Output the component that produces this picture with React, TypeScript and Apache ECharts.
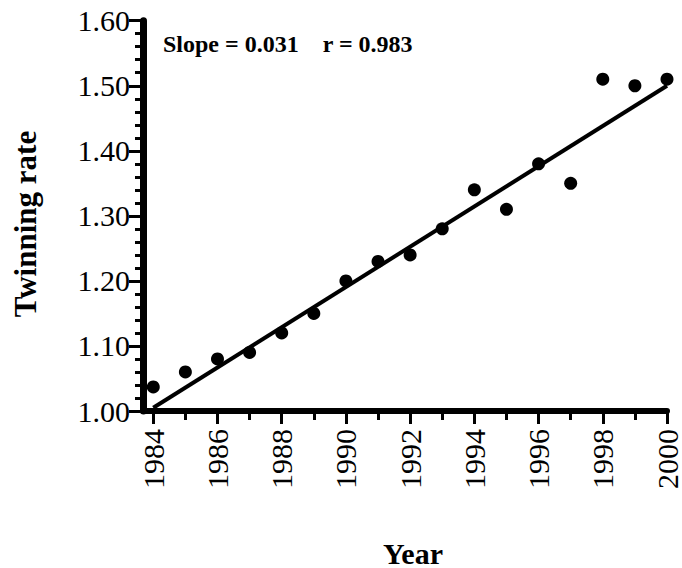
import React, { useEffect, useRef } from "react";
import * as echarts from "echarts";

const years = [1984, 1985, 1986, 1987, 1988, 1989, 1990, 1991, 1992, 1993, 1994, 1995, 1996, 1997, 1998, 1999, 2000];
const rates = [1.037, 1.06, 1.08, 1.09, 1.12, 1.15, 1.2, 1.23, 1.24, 1.28, 1.34, 1.31, 1.38, 1.35, 1.51, 1.5, 1.51];
const fitYears = [1984, 2000];
const fitRates = [1.005, 1.5];
const majorYearTicks = [1984, 1986, 1988, 1990, 1992, 1994, 1996, 1998, 2000];
const minorYearTicks = [1985, 1987, 1989, 1991, 1993, 1995, 1997, 1999];
const majorRateTicks = [1.0, 1.1, 1.2, 1.3, 1.4, 1.5, 1.6];
const minorRateTicks = [
  1.02, 1.04, 1.06, 1.08,
  1.12, 1.14, 1.16, 1.18,
  1.22, 1.24, 1.26, 1.28,
  1.32, 1.34, 1.36, 1.38,
  1.42, 1.44, 1.46, 1.48,
  1.52, 1.54, 1.56, 1.58,
];
const yTitle = "Twinning rate";
const xTitle = "Year";
const annotation = "Slope = 0.031    r = 0.983";

const SERIF = "'Liberation Serif', 'DejaVu Serif', serif";

export default function App() {
  const ref = useRef<HTMLDivElement>(null);
  useEffect(() => {
    if (!ref.current) return;
    const chart = echarts.init(ref.current, undefined, { renderer: "svg" });
    const xMin = 1983.68;
    const tickStyle = { color: "#000000", width: 3 };
    chart.setOption({
      animation: false,
      backgroundColor: "#ffffff",
      grid: { left: 143, right: 10, top: 20.7, bottom: 157, containLabel: false },
      xAxis: [
        {
          type: "value",
          position: "bottom",
          min: xMin,
          max: 2000,
          axisLine: { show: true, lineStyle: { color: "#000000", width: 6 } },
          axisTick: { show: true, customValues: majorYearTicks, length: 13, lineStyle: tickStyle },
          axisLabel: {
            show: true,
            customValues: majorYearTicks,
            rotate: 90,
            margin: 18,
            color: "#000",
            fontFamily: SERIF,
            fontSize: 30,
            formatter: (v: number) => String(Math.round(v)),
          },
          splitLine: { show: false },
        },
        {
          type: "value",
          position: "bottom",
          min: xMin,
          max: 2000,
          axisLine: { show: false },
          axisTick: { show: true, customValues: minorYearTicks, length: 9, lineStyle: tickStyle },
          axisLabel: { show: false },
          splitLine: { show: false },
        },
      ],
      yAxis: [
        {
          type: "value",
          position: "left",
          min: 1.0,
          max: 1.6,
          axisLine: { show: true, lineStyle: { color: "#000000", width: 7 } },
          axisTick: { show: true, customValues: majorRateTicks, length: 14, lineStyle: tickStyle },
          axisLabel: {
            customValues: majorRateTicks,
            margin: 13,
            color: "#000",
            fontFamily: SERIF,
            fontSize: 30,
            formatter: (v: number) => v.toFixed(2),
          },
          splitLine: { show: false },
        },
        {
          type: "value",
          position: "left",
          min: 1.0,
          max: 1.6,
          axisLine: { show: false },
          axisTick: { show: true, customValues: minorRateTicks, length: 8, lineStyle: tickStyle },
          axisLabel: { show: false },
          splitLine: { show: false },
        },
      ],
      series: [
        {
          type: "line",
          xAxisIndex: 0,
          yAxisIndex: 0,
          data: fitYears.map((y, i) => [y, fitRates[i]]),
          symbol: "none",
          lineStyle: { color: "#000", width: 4 },
          z: 2,
        },
        {
          type: "scatter",
          xAxisIndex: 0,
          yAxisIndex: 0,
          data: years.map((y, i) => [y, rates[i]]),
          symbol: "circle",
          symbolSize: 13,
          itemStyle: { color: "#000", opacity: 1 },
          z: 3,
        },
      ],
      graphic: [
        {
          type: "text",
          x: 163,
          y: 44,
          style: {
            text: annotation,
            fill: "#000",
            font: `bold 24px ${SERIF}`,
            verticalAlign: "middle",
            align: "left",
          },
        },
        {
          type: "text",
          x: 25,
          y: 224,
          rotation: Math.PI / 2,
          style: {
            text: yTitle,
            fill: "#000",
            font: `bold 31px ${SERIF}`,
            align: "center",
            verticalAlign: "middle",
          },
        },
        {
          type: "text",
          x: 413,
          y: 553,
          style: {
            text: xTitle,
            fill: "#000",
            font: `bold 30px ${SERIF}`,
            align: "center",
            verticalAlign: "middle",
          },
        },
      ],
    });
    return () => chart.dispose();
  }, []);
  return <div ref={ref} style={{ position: "fixed", left: 0, top: 0, width: 682, height: 568 }} />;
}
